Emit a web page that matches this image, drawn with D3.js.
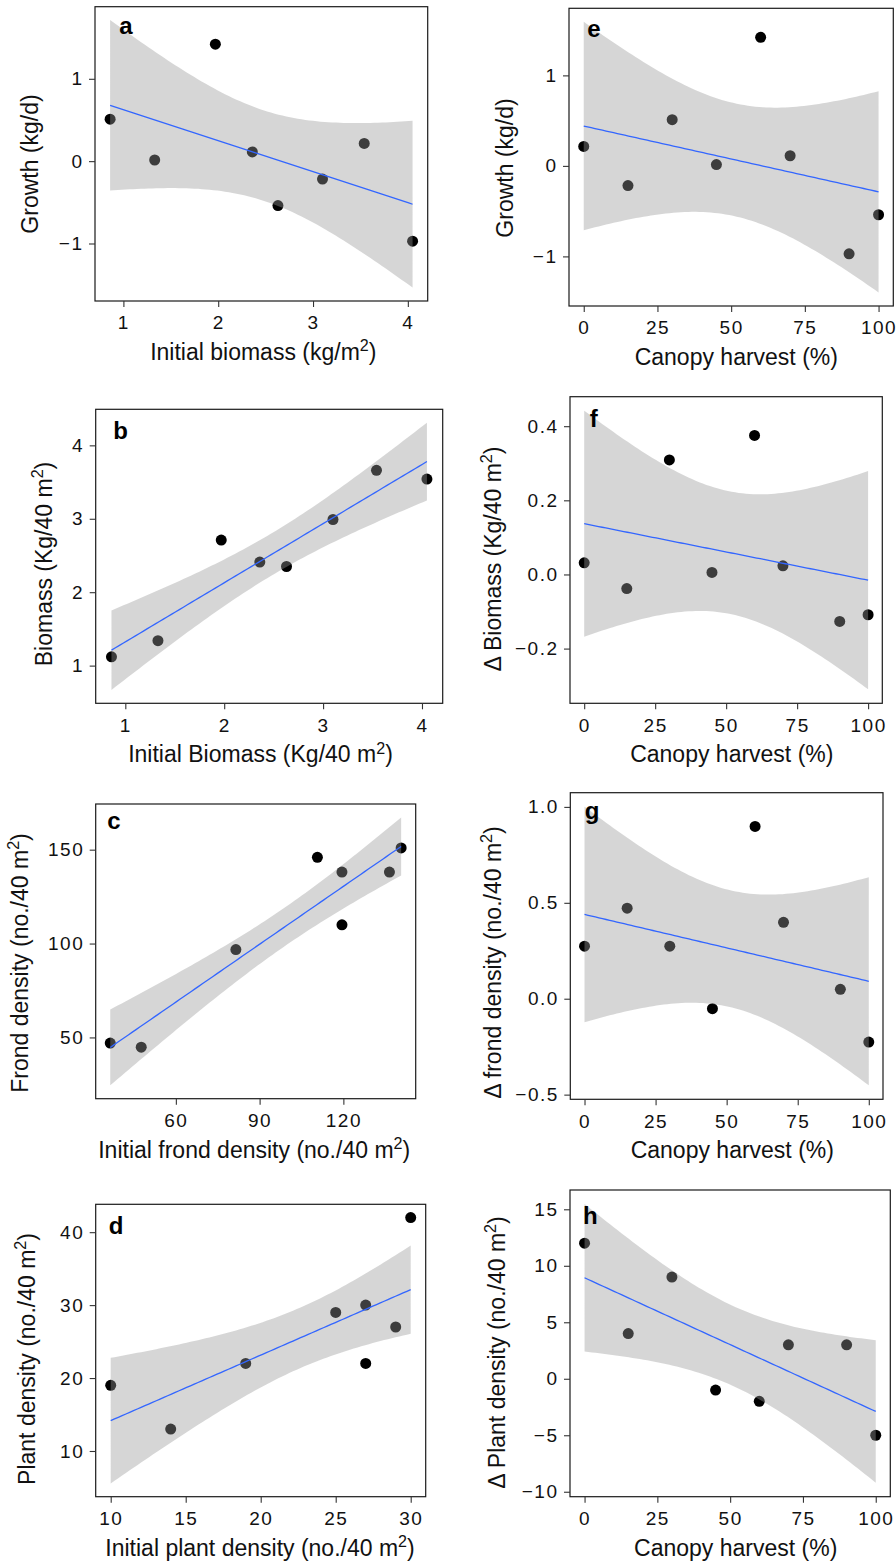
<!DOCTYPE html>
<html>
<head>
<meta charset="utf-8">
<script src="https://cdn.jsdelivr.net/npm/d3@7"></script>
<style>
  html, body { margin: 0; padding: 0; background: #fff; }
  svg { display: block; font-family: "Liberation Sans", Arial, Helvetica, sans-serif; }
</style>
</head>
<body>
<svg id="chart" width="896" height="1564"></svg>
<script>
// data (8 plots each)
const initialBiomass = [0.86, 1.33, 1.97, 2.36, 2.63, 3.10, 3.54, 4.05];
const growthByBiomass = [0.51, 0.014, 1.42, 0.112, -0.54, -0.217, 0.215, -0.972];
const finalBiomass = [1.12, 1.34, 2.71, 2.41, 2.35, 2.99, 3.66, 3.54];
const initialFrond = [36.5, 47.6, 81.5, 110.7, 119.5, 119.5, 136.5, 140.7];
const finalFrond = [47.0, 44.8, 96.8, 145.9, 138.1, 110.0, 138.1, 150.9];
const initialPlant = [10, 14, 19, 25, 27, 27, 29, 30];
const finalPlant = [19, 13, 22, 29, 30, 22, 27, 42];

const canopyHarvest = [0, 15, 30, 45, 60, 70, 90, 100];
const growthByHarvest = [0.215, -0.217, 0.51, 0.014, 1.42, 0.112, -0.972, -0.54];
const deltaBiomass = [0.0315, -0.038, 0.309, 0.0054, 0.375, 0.0234, -0.1267, -0.1087];
const deltaFrond = [0.274, 0.472, 0.274, -0.052, 0.898, 0.398, 0.049, -0.226];
const deltaPlant = [12, 4, 9, -1, -2, 3, 3, -5];

// tick values
const ticksBiomassX = [1, 2, 3, 4];
const ticksGrowthY = [-1, 0, 1];
const ticksBiomassY = [1, 2, 3, 4];
const ticksFrondX = [60, 90, 120];
const ticksFrondY = [50, 100, 150];
const ticksPlantX = [10, 15, 20, 25, 30];
const ticksPlantY = [10, 20, 30, 40];
const ticksHarvestX = [0, 25, 50, 75, 100];
const ticksDeltaBiomassY = [-0.2, 0, 0.2, 0.4];
const ticksDeltaFrondY = [-0.5, 0, 0.5, 1.0];
const ticksDeltaPlantY = [-10, -5, 0, 5, 10, 15];

// t quantiles, df = 6 (n = 8): 95% band and 90% band (c, d look like 90%)
const T95 = 2.446912;
const T90 = 1.943180;

const panels = [
  { letter: "a", xs: initialBiomass, ys: growthByBiomass, xt: ticksBiomassX, yt: ticksGrowthY, yf: "d", t: T95,
    box: [95, 427.7, 6.7, 301], lo: [24.3, 27.3], yTitle: [38.2, 164], xTitleX: 263.3,
    xLab: ["Initial biomass (kg/m", "2", ")"], yLab: ["Growth (kg/d)"] },
  { letter: "b", xs: initialBiomass, ys: finalBiomass, xt: ticksBiomassX, yt: ticksBiomassY, yf: "d", t: T95,
    box: [95.7, 442.7, 409.3, 703.3], lo: [17.6, 29.7], yTitle: [51.5, 564], xTitleX: 260.5,
    xLab: ["Initial Biomass (Kg/40 m", "2", ")"], yLab: ["Biomass (Kg/40 m", "2", ")"] },
  { letter: "c", xs: initialFrond, ys: finalFrond, xt: ticksFrondX, yt: ticksFrondY, yf: "d", t: T90,
    box: [95.7, 415.7, 804, 1098.7], lo: [11.6, 25], yTitle: [28.2, 963], xTitleX: 254.2,
    xLab: ["Initial frond density (no./40 m", "2", ")"], yLab: ["Frond density (no./40 m", "2", ")"] },
  { letter: "d", xs: initialPlant, ys: finalPlant, xt: ticksPlantX, yt: ticksPlantY, yf: "d", t: T90,
    box: [95.7, 425.7, 1204.3, 1496.7], lo: [13, 29.7], yTitle: [34.8, 1359], xTitleX: 260,
    xLab: ["Initial plant density (no./40 m", "2", ")"], yLab: ["Plant density (no./40 m", "2", ")"] },
  { letter: "e", xs: canopyHarvest, ys: growthByHarvest, xt: ticksHarvestX, yt: ticksGrowthY, yf: "d", t: T95,
    box: [569, 893.3, 8.3, 306], lo: [18.3, 28.4], yTitle: [512.8, 168], xTitleX: 736.3,
    xLab: ["Canopy harvest (%)"], yLab: ["Growth (kg/d)"] },
  { letter: "f", xs: canopyHarvest, ys: deltaBiomass, xt: ticksHarvestX, yt: ticksDeltaBiomassY, yf: ".1f", t: T95,
    box: [570, 882.3, 396.7, 703.3], lo: [19.7, 30], yTitle: [501, 559], xTitleX: 731.8,
    xLab: ["Canopy harvest (%)"], yLab: ["\u0394 Biomass (Kg/40 m", "2", ")"] },
  { letter: "g", xs: canopyHarvest, ys: deltaFrond, xt: ticksHarvestX, yt: ticksDeltaFrondY, yf: ".1f", t: T95,
    box: [570.3, 883, 792.7, 1099.3], lo: [14.4, 26.6], yTitle: [501.2, 962.5], xTitleX: 732.3,
    xLab: ["Canopy harvest (%)"], yLab: ["\u0394 frond density (no./40 m", "2", ")"] },
  { letter: "h", xs: canopyHarvest, ys: deltaPlant, xt: ticksHarvestX, yt: ticksDeltaPlantY, yf: "d", t: T95,
    box: [570, 890.3, 1190, 1496.7], lo: [13, 34], yTitle: [504.5, 1352.5], xTitleX: 735.7,
    xLab: ["Canopy harvest (%)"], yLab: ["\u0394 Plant density (no./40 m", "2", ")"] }
];

// ordinary least squares with a confidence band, like geom_smooth(method = "lm")
const fitLine = (xs, ys, t) => {
  const n = xs.length;
  const mx = d3.mean(xs), my = d3.mean(ys);
  const sxx = d3.sum(xs, x => (x - mx) * (x - mx));
  const sxy = d3.sum(xs, (x, i) => (x - mx) * (ys[i] - my));
  const b = sxy / sxx, a = my - b * mx;
  const sse = d3.sum(xs, (x, i) => Math.pow(ys[i] - a - b * x, 2));
  const s = Math.sqrt(sse / (n - 2));
  const [x0, x1] = d3.extent(xs);
  const grid = d3.range(80).map(i => x0 + (x1 - x0) * i / 79);
  return grid.map(x => {
    const f = a + b * x;
    const h = t * s * Math.sqrt(1 / n + (x - mx) * (x - mx) / sxx);
    return { x: x, fit: f, lo: f - h, hi: f + h };
  });
};

const expand = ([lo, hi]) => {
  const pad = (hi - lo) * 0.05;
  return [lo - pad, hi + pad];
};

const svg = d3.select("#chart");

const addLabel = (sel, parts, size) => {
  sel.append("tspan").text(parts[0]);
  if (parts.length > 1) {
    sel.append("tspan").text(parts[1]).attr("font-size", size * 0.7).attr("dy", -size * 0.38);
    sel.append("tspan").text(parts[2]).attr("dy", size * 0.38);
  }
};

panels.forEach(p => {
  const [left, right, top, bottom] = p.box;
  const band = fitLine(p.xs, p.ys, p.t);

  const x = d3.scaleLinear().domain(expand(d3.extent(p.xs))).range([left, right]);
  const yVals = p.ys.concat(band.map(d => d.lo), band.map(d => d.hi));
  const y = d3.scaleLinear().domain(expand(d3.extent(yVals))).range([bottom, top]);

  const g = svg.append("g");

  // points first, band on top (semi transparent)
  g.selectAll("circle")
    .data(p.xs.map((v, i) => [v, p.ys[i]]))
    .join("circle")
    .attr("cx", d => x(d[0]))
    .attr("cy", d => y(d[1]))
    .attr("r", 5.5)
    .attr("fill", "#000");

  g.append("path")
    .datum(band)
    .attr("fill", "#999999")
    .attr("fill-opacity", 0.4)
    .attr("d", d3.area().x(d => x(d.x)).y0(d => y(d.lo)).y1(d => y(d.hi)));

  g.append("path")
    .datum(band)
    .attr("fill", "none")
    .attr("stroke", "#3366FF")
    .attr("stroke-width", 1.3)
    .attr("d", d3.line().x(d => x(d.x)).y(d => y(d.fit)));

  g.append("rect")
    .attr("x", left).attr("y", top)
    .attr("width", right - left).attr("height", bottom - top)
    .attr("fill", "none")
    .attr("stroke", "#1a1a1a")
    .attr("stroke-width", 1.2);

  const xAxis = g.append("g")
    .attr("transform", `translate(0,${bottom})`)
    .call(d3.axisBottom(x).tickValues(p.xt).tickSize(6).tickPadding(9).tickFormat(d3.format("d")));
  const yAxis = g.append("g")
    .attr("transform", `translate(${left},0)`)
    .call(d3.axisLeft(y).tickValues(p.yt).tickSize(6).tickPadding(5.5).tickFormat(d3.format(p.yf)));

  [xAxis, yAxis].forEach(ax => {
    ax.select(".domain").remove();
    ax.selectAll(".tick line").attr("stroke", "#333").attr("stroke-width", 1.1);
    ax.selectAll(".tick text")
      .attr("fill", "#111")
      .attr("font-size", 19)
      .attr("letter-spacing", 1.5)
      .attr("font-family", "'Liberation Sans', Arial, Helvetica, sans-serif");
  });

  // panel letter
  g.append("text")
    .attr("x", left + p.lo[0])
    .attr("y", top + p.lo[1])
    .attr("font-size", 24)
    .attr("font-weight", "bold")
    .attr("fill", "#000")
    .text(p.letter);

  // axis titles
  const xt = g.append("text")
    .attr("x", p.xTitleX)
    .attr("y", bottom + 59)
    .attr("text-anchor", "middle")
    .attr("font-size", 23)
    .attr("fill", "#111");
  addLabel(xt, p.xLab, 23);

  const yt = g.append("text")
    .attr("transform", `translate(${p.yTitle[0]},${p.yTitle[1]}) rotate(-90)`)
    .attr("text-anchor", "middle")
    .attr("font-size", 23)
    .attr("fill", "#111");
  addLabel(yt, p.yLab, 23);
});
</script>
</body>
</html>
